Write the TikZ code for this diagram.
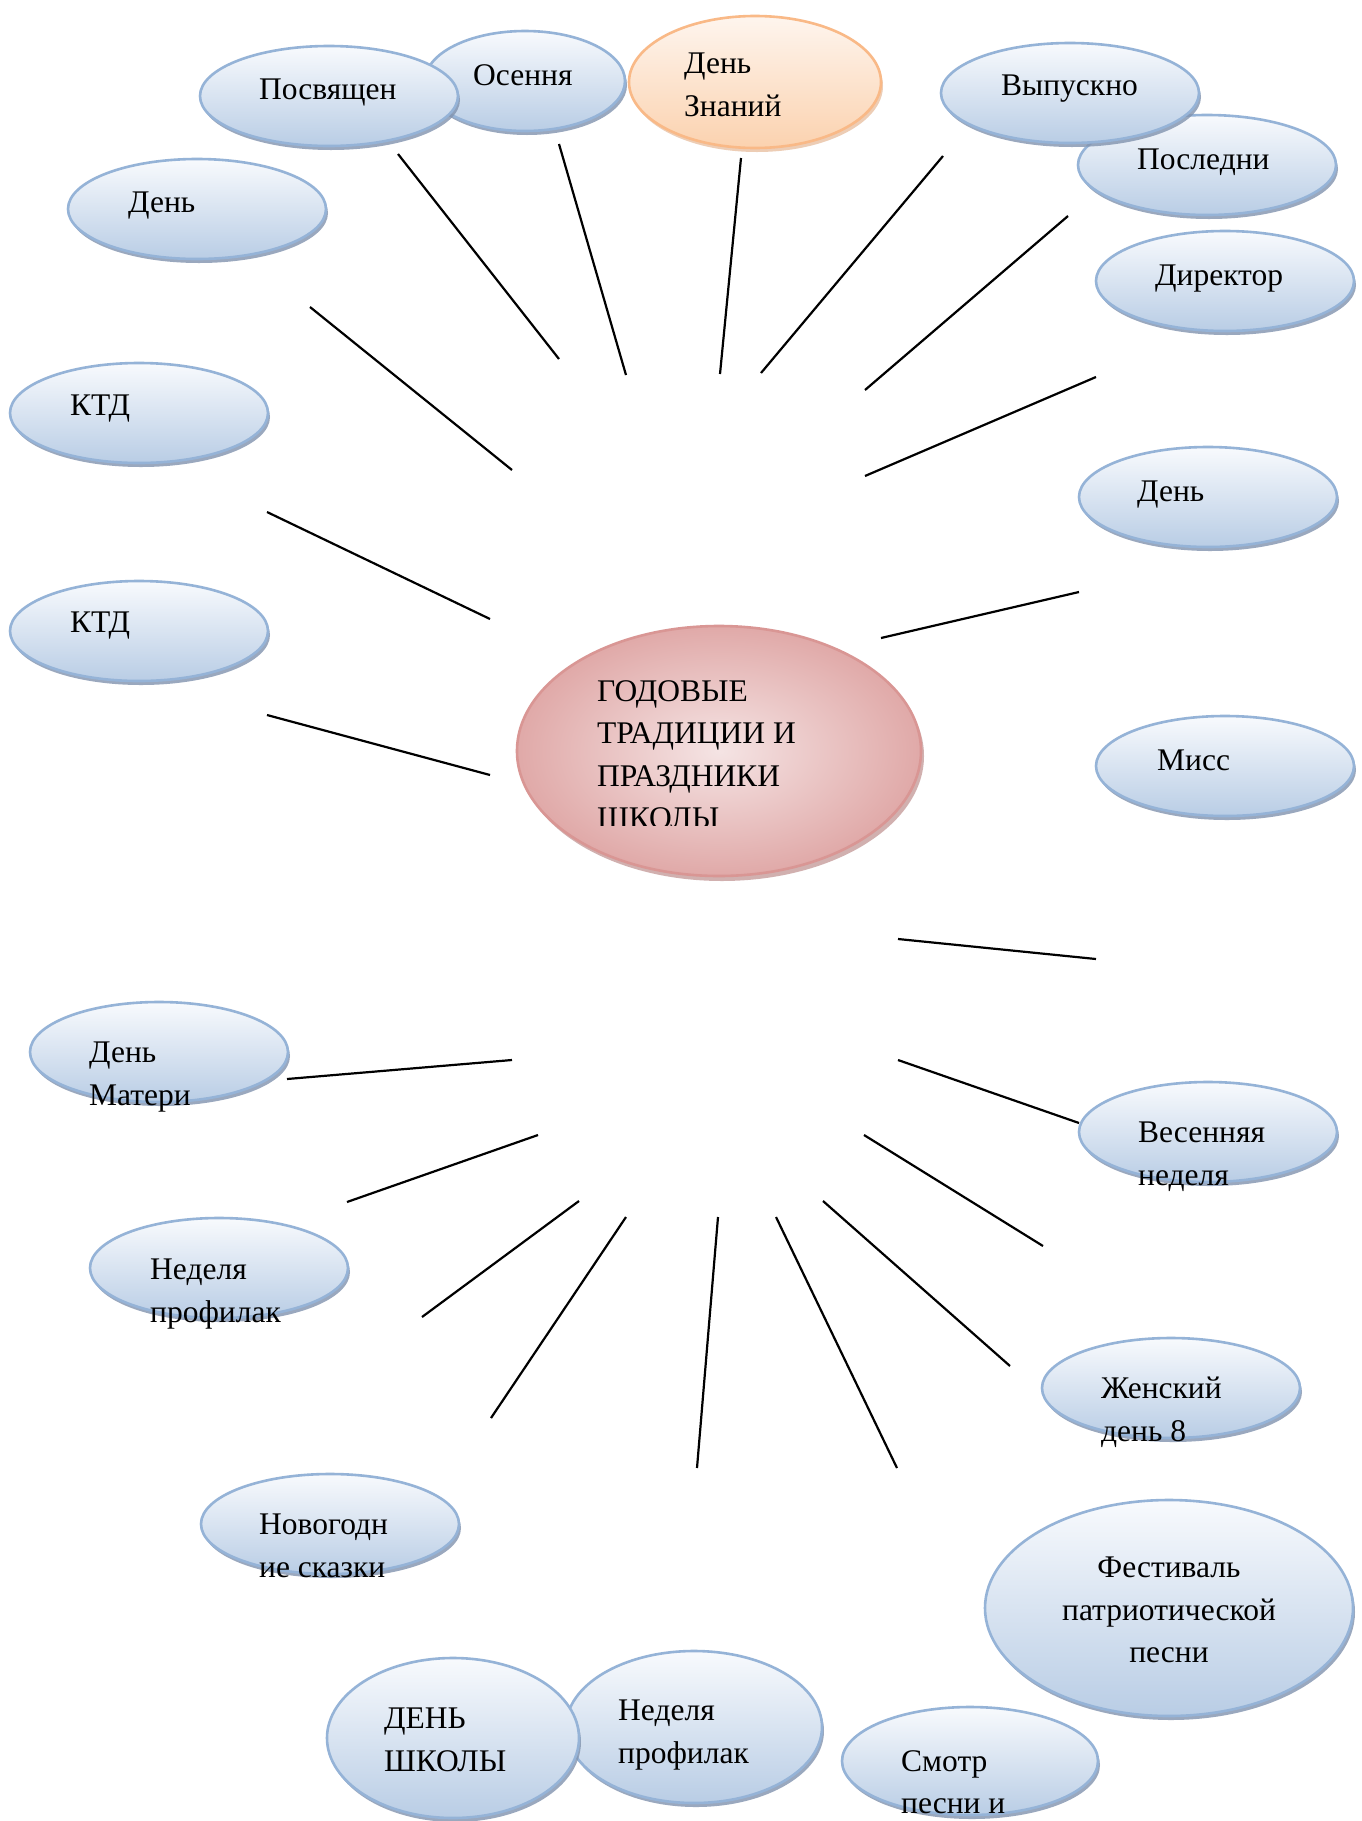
\documentclass[tikz,border=0pt]{standalone}
\usepackage{fontspec}
\setmainfont{Liberation Serif}
\usepackage{xcolor}
\usepackage{tikz}
\usetikzlibrary{shapes.geometric, shadows}
\definecolor{bluerim}{HTML}{95B3D7}
\definecolor{bluetop}{HTML}{F8FAFD}
\definecolor{bluebot}{HTML}{B9CDE5}
\definecolor{blueshade}{HTML}{8193AE}
\definecolor{pinkrim}{HTML}{D99694}
\definecolor{pinkin}{HTML}{F5E4E4}
\definecolor{pinkout}{HTML}{E0A9A8}
\definecolor{peachrim}{HTML}{F9B987}
\definecolor{peachtop}{HTML}{FEF5EE}
\definecolor{peachbot}{HTML}{FBD2AF}
\tikzstyle{bubble} = [ellipse, inner sep=0pt, line width=2.6pt,
	minimum width=258pt,
	minimum height=100pt]
\tikzstyle{blue bubble} = [bubble, draw=bluerim,
	top color=bluetop, bottom color=bluebot,
	drop shadow={shadow xshift=2pt, shadow yshift=-4pt, fill=blueshade, opacity=0.8}]
\tikzstyle{peach bubble} = [bubble, draw=peachrim,
	top color=peachtop, bottom color=peachbot,
	drop shadow={shadow xshift=2pt, shadow yshift=-4pt, fill=peachrim!80!gray, opacity=0.6}]
\tikzstyle{pink bubble} = [bubble, draw=pinkrim,
	shading=radial, inner color=pinkin, outer color=pinkout,
	drop shadow={shadow xshift=3pt, shadow yshift=-5pt, fill=pinkrim!70!gray, opacity=0.7}]
\tikzstyle{caption} = [anchor=north west, align=left, inner sep=0pt, yshift=20.9pt,
	font=\fontsize{31.5}{42.5}\selectfont]
\tikzstyle{spoke} = [line width=2.2pt]
\newcommand{\drawbubble}[5]{\node[#1] (#2) at #3 {};
	\node[caption] (#2-t) at #4 {#5}}

\begin{document}
\begin{tikzpicture}[x=1pt, y=-1pt]
	\path[use as bounding box, fill=white] (0,0) rectangle (1361,1821);
	
	% spokes round the centre
	\coordinate (a1) at (398,154);  \coordinate (b1) at (559,359);
	\coordinate (a2) at (559,144);  \coordinate (b2) at (626,375);
	\coordinate (a3) at (741,158);  \coordinate (b3) at (720,374);
	\coordinate (a4) at (943,156);  \coordinate (b4) at (761,373);
	\coordinate (a5) at (1068,216); \coordinate (b5) at (865,390);
	\coordinate (a6) at (1096,377); \coordinate (b6) at (865,476);
	\coordinate (a7) at (310,307);  \coordinate (b7) at (512,470);
	\coordinate (a8) at (267,512);  \coordinate (b8) at (490,619);
	\coordinate (a9) at (1079,592); \coordinate (b9) at (881,638);
	\coordinate (a10) at (267,715); \coordinate (b10) at (490,775);
	\coordinate (a11) at (898,939); \coordinate (b11) at (1096,959);
	\coordinate (a12) at (287,1079); \coordinate (b12) at (512,1060);
	\coordinate (a13) at (898,1060); \coordinate (b13) at (1079,1123);
	\coordinate (a14) at (347,1202); \coordinate (b14) at (538,1135);
	\coordinate (a15) at (864,1135); \coordinate (b15) at (1043,1246);
	\coordinate (a16) at (422,1317); \coordinate (b16) at (579,1201);
	\coordinate (a17) at (823,1201); \coordinate (b17) at (1010,1366);
	\coordinate (a18) at (491,1418); \coordinate (b18) at (626,1217);
	\coordinate (a19) at (718,1217); \coordinate (b19) at (697,1468);
	\coordinate (a20) at (776,1217); \coordinate (b20) at (897,1468);
	
	\draw [spoke] (a1) -- (b1);
	\draw [spoke] (a2) -- (b2);
	\draw [spoke] (a3) -- (b3);
	\draw [spoke] (a4) -- (b4);
	\draw [spoke] (a5) -- (b5);
	\draw [spoke] (a6) -- (b6);
	\draw [spoke] (a7) -- (b7);
	\draw [spoke] (a8) -- (b8);
	\draw [spoke] (a9) -- (b9);
	\draw [spoke] (a10) -- (b10);
	\draw [spoke] (a11) -- (b11);
	\draw [spoke] (a12) -- (b12);
	\draw [spoke] (a13) -- (b13);
	\draw [spoke] (a14) -- (b14);
	\draw [spoke] (a15) -- (b15);
	\draw [spoke] (a16) -- (b16);
	\draw [spoke] (a17) -- (b17);
	\draw [spoke] (a18) -- (b18);
	\draw [spoke] (a19) -- (b19);
	\draw [spoke] (a20) -- (b20);
	
	% top row
	\drawbubble{blue bubble, minimum width=200pt}{osen}{(525,81)}{(473,85)}{Осення};
	\drawbubble{blue bubble}{posv}{(329,96)}{(259,100)}{Посвящен};
	\drawbubble{peach bubble, minimum width=252pt, minimum height=132pt}{znan}{(755,82)}{(684,74)}{День\\Знаний};
	\drawbubble{blue bubble}{posl}{(1207,165)}{(1137,170)}{Последни};
	\drawbubble{blue bubble}{vyp}{(1070,93)}{(1001,96)}{Выпускно};
	
	% right column
	\drawbubble{blue bubble}{dir}{(1225,281)}{(1155,286)}{Директор};
	\drawbubble{blue bubble}{dayr}{(1208,497)}{(1137,502)}{День};
	\drawbubble{blue bubble}{miss}{(1225,766)}{(1157,771)}{Мисс};
	\drawbubble{blue bubble}{ves}{(1208,1132)}{(1138,1143)}{Весенняя\\неделя};
	\drawbubble{blue bubble}{zhen}{(1171,1388)}{(1101,1398)}{Женский\\день 8};
	
	% left column
	\drawbubble{blue bubble}{dayl}{(197,209)}{(128,213)}{День};
	\drawbubble{blue bubble}{ktda}{(139,413)}{(70,416)}{КТД};
	\drawbubble{blue bubble}{ktdb}{(139,631)}{(70,633)}{КТД};
	\drawbubble{blue bubble}{mat}{(159,1052)}{(89,1063)}{День\\Матери};
	\drawbubble{blue bubble}{nedl}{(219,1268)}{(150,1280)}{Неделя\\профилак};
	\drawbubble{blue bubble}{nov}{(330,1524)}{(259,1535)}{Новогодн\\ие сказки};
	
	% bottom row
	\drawbubble{blue bubble, minimum width=256pt, minimum height=152pt}{nedb}{(694,1727)}{(618,1721)}{Неделя\\профилак};
	\drawbubble{blue bubble, minimum width=252pt, minimum height=160pt}{dsch}{(453,1738)}{(384,1729)}{ДЕНЬ\\ШКОЛЫ};
	\drawbubble{blue bubble, minimum width=256pt, minimum height=108pt}{smotr}{(970,1761)}{(901,1771)}{Смотр\\песни и};
	
	\node[blue bubble, minimum width=368pt, minimum height=216pt] (fest) at (1169,1608) {};
	\node[caption, anchor=north, align=center] (fest-t) at (1169,1578) {Фестиваль\\патриотической\\песни};
	
	% centre
	\node[pink bubble, minimum width=404pt, minimum height=250pt] (main) at (719,751) {};
	\begin{scope}
		\clip (0,0) rectangle (1361,825);
		\node[caption] (main-t) at (597,701) {ГОДОВЫЕ\\ТРАДИЦИИ И\\ПРАЗДНИКИ\\ШКОЛЫ};
	\end{scope}
\end{tikzpicture}
\end{document}
